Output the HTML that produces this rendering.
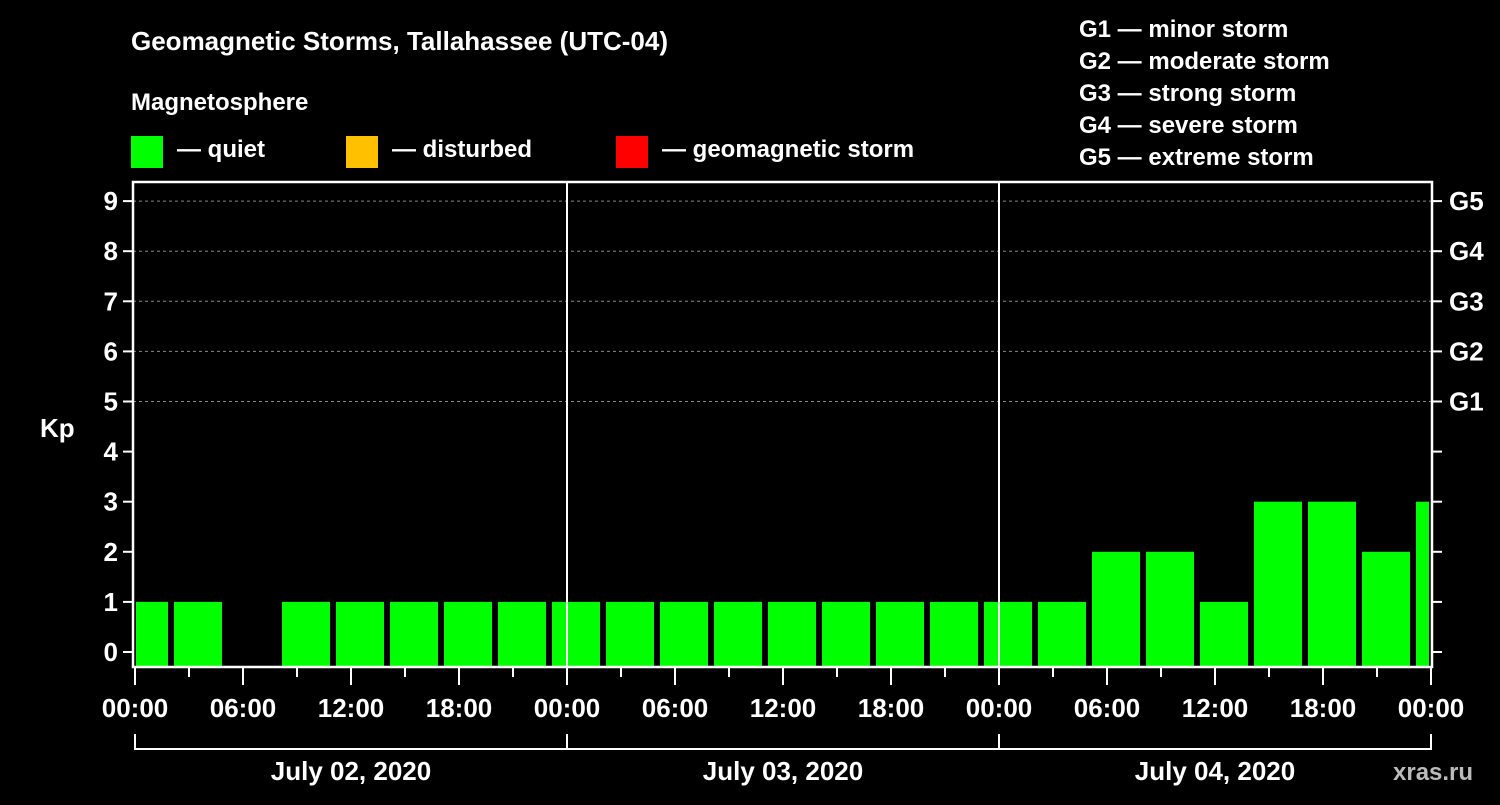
<!DOCTYPE html>
<html><head><meta charset="utf-8"><style>
html,body{margin:0;padding:0;background:#000;}
svg text{font-family:"Liberation Sans",Arial,sans-serif;font-weight:bold;fill:#fff;}
</style></head><body>
<svg id="chart" width="1500" height="800" viewBox="0 0 1500 800" xmlns="http://www.w3.org/2000/svg">
<rect x="0" y="0" width="1500" height="800" fill="#000"/>
<text x="131" y="50" font-size="26">Geomagnetic Storms, Tallahassee (UTC-04)</text>
<text x="131" y="110" font-size="24">Magnetosphere</text>
<g><rect x="131" y="136" width="32" height="32" fill="#00ff00"/><text x="177" y="157" font-size="24">— quiet</text></g>
<g><rect x="346" y="136" width="32" height="32" fill="#ffc000"/><text x="392" y="157" font-size="24">— disturbed</text></g>
<g><rect x="616" y="136" width="32" height="32" fill="#ff0000"/><text x="662" y="157" font-size="24">— geomagnetic storm</text></g>
<g font-size="24">
<text x="1079" y="37">G1 — minor storm</text>
<text x="1079" y="69">G2 — moderate storm</text>
<text x="1079" y="101">G3 — strong storm</text>
<text x="1079" y="133">G4 — severe storm</text>
<text x="1079" y="165">G5 — extreme storm</text>
</g>
<g id="grid"></g>
<g id="bars"></g>
<g id="axes"></g>
<text x="40" y="437" font-size="26">Kp</text>
<text x="1393" y="780" font-size="24" fill="#bbb" style="fill:#bbb">xras.ru</text>
</svg>
<script>
const kpValues = [1,1,0,1,1,1,1,1,1, 1,1,1,1,1,1,1,1, 1,2,2,1,3,3,2,3];
const barStartHours = [-1,2,5,8,11,14,17,20,23, 26,29,32,35,38,41,44,47, 50,53,56,59,62,65,68,71];
const yTicks = [0,1,2,3,4,5,6,7,8,9];
const gLabels = ["","","","","","G1","G2","G3","G4","G5"];
const xTickLabels = ["00:00","06:00","12:00","18:00","00:00","06:00","12:00","18:00","00:00","06:00","12:00","18:00","00:00"];
const dayLabels = ["July 02, 2020","July 03, 2020","July 04, 2020"];

const NS="http://www.w3.org/2000/svg";
const X0=135, HW=18, L=133, R=1432, T=182, B=667;
const xs=h=>X0+HW*h;
const ys=v=>652-50.1*v;
function mk(tag,attrs,parent){const e=document.createElementNS(NS,tag);for(const k in attrs)e.setAttribute(k,attrs[k]);parent.appendChild(e);return e;}
const grid=document.getElementById('grid'),bars=document.getElementById('bars'),axes=document.getElementById('axes');

yTicks.forEach((v,i)=>{
  if(v>=5){const g=mk('line',{x1:L,x2:R,y1:ys(v),y2:ys(v),stroke:'#888','stroke-width':1,'stroke-dasharray':'3,3'},grid);
  
  }
  const t1=mk('line',{x1:123,x2:L,y1:ys(v),y2:ys(v),stroke:'#fff','stroke-width':2},axes);
  
  
  const t2=mk('line',{x1:R,x2:1442,y1:ys(v),y2:ys(v),stroke:'#fff','stroke-width':2},axes);
  
  
  const lb=mk('text',{x:118,y:ys(v)+9,'font-size':26,'text-anchor':'end'},axes);lb.textContent=v;
  
  
  if(gLabels[i]){const gl=mk('text',{x:1449,y:ys(v)+9,'font-size':26},axes);gl.textContent=gLabels[i];
  
  }
});

kpValues.forEach((v,i)=>{
  if(v<=0)return;
  let x1=xs(barStartHours[i])+3, x2=xs(barStartHours[i]+3)-3;
  x1=Math.max(x1,X0+1); x2=Math.min(x2,R-3);
  const r=mk('rect',{x:x1,y:ys(v),width:x2-x1,height:(B-1)-ys(v),fill:'#00ff00'},bars);
  
  
});

[1,2].forEach(d=>{const l=mk('line',{x1:xs(24*d),x2:xs(24*d),y1:T,y2:B,stroke:'#fff','stroke-width':2},axes);
  
  });

const fr=mk('rect',{x:L,y:T,width:R-L,height:B-T,fill:'none',stroke:'#fff','stroke-width':2.5},axes);



for(let h=0;h<=72;h+=3){
  const major=h%6===0;
  const t=mk('line',{x1:xs(h),x2:xs(h),y1:B,y2:major?685:677,stroke:'#fff','stroke-width':2},axes);
  
  
}
xTickLabels.forEach((s,i)=>{const t=mk('text',{x:xs(i*6),y:717,'font-size':26,'text-anchor':'middle'},axes);t.textContent=s;
  
  });

const br=mk('line',{x1:X0,x2:xs(72),y1:749,y2:749,stroke:'#fff','stroke-width':2},axes);


for(let d=0;d<=3;d++){const v=mk('line',{x1:xs(24*d),x2:xs(24*d),y1:734,y2:750,stroke:'#fff','stroke-width':2},axes);
  
  }
dayLabels.forEach((s,d)=>{const t=mk('text',{x:xs(24*d+12),y:780,'font-size':26,'text-anchor':'middle'},axes);t.textContent=s;
  
  });
</script>
</body></html>
